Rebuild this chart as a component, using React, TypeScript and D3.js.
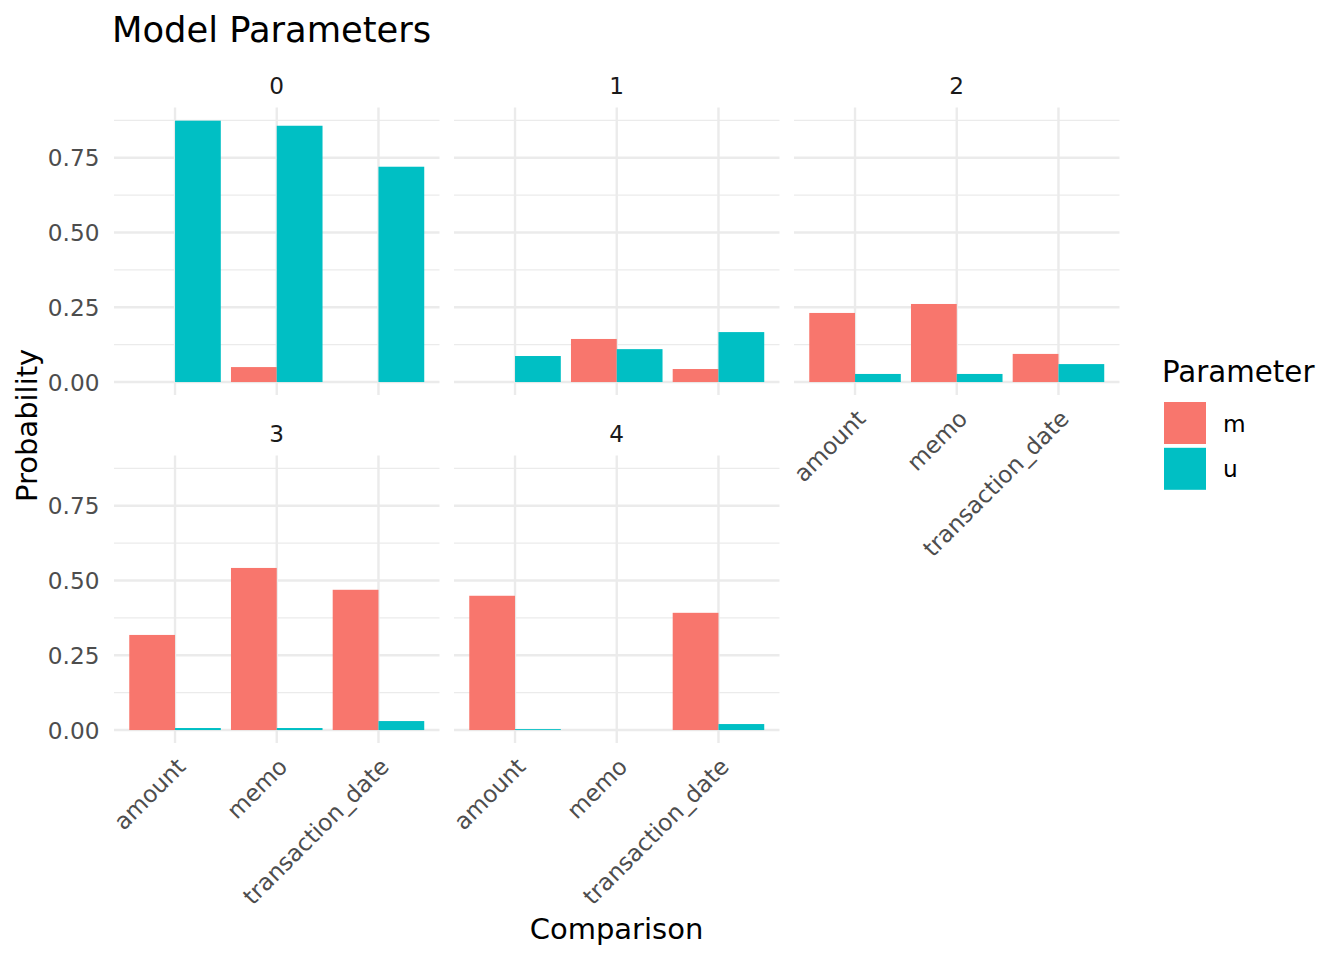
import React from "react";
import * as d3 from "d3";

const levels = ["0", "1", "2", "3", "4"];
const comparisons = ["amount", "memo", "transaction_date"];
const parameters = ["m", "u"];
const mValues = [
  [0, 0.05, 0],
  [0, 0.144, 0.0435],
  [0.231, 0.261, 0.094],
  [0.318, 0.542, 0.469],
  [0.449, 0, 0.392],
];
const uValues = [
  [0.874, 0.857, 0.72],
  [0.087, 0.11, 0.167],
  [0.027, 0.027, 0.06],
  [0.0067, 0.0067, 0.03],
  [0.003, 0, 0.02],
];
const yTicks = [0, 0.25, 0.5, 0.75];
const yMinor = [0.125, 0.375, 0.625, 0.875];

const COLORS: Record<string, string> = { m: "#F8766D", u: "#00BFC4" };
const FONT = "DejaVu Sans, sans-serif";

const W = 1344;
const H = 960;
const panelW = 325.5;
const panelGap = 14.5;
const panelLeft = 114;
const panelH = 287.5;
const rowTops = [107.6, 455.6];
const NCOL = 3;

export default function App() {
  const all = [...mValues.flat(), ...uValues.flat()];
  const vmax = d3.max(all) as number;
  const vmin = Math.min(0, d3.min(all) as number);
  const span = vmax - vmin;
  const yDomain: [number, number] = [vmin - 0.05 * span, vmax + 0.05 * span];

  const panels = levels.map((lvl, i) => {
    const col = i % NCOL;
    const row = Math.floor(i / NCOL);
    const x0 = panelLeft + col * (panelW + panelGap);
    const y0 = rowTops[row];
    const x = d3.scaleLinear().domain([0.4, comparisons.length + 0.6]).range([x0, x0 + panelW]);
    const y = d3.scaleLinear().domain(yDomain).range([y0 + panelH, y0]);
    const showX = i + NCOL >= levels.length;
    const showY = col === 0;
    return { lvl, i, x0, y0, x, y, showX, showY };
  });

  const barW = 0.45;

  return (
    <svg width={W} height={H} style={{ display: "block", position: "absolute", left: 0, top: 0, background: "#fff" }} fontFamily={FONT}>
      <rect x={0} y={0} width={W} height={H} fill="#fff" />
      <text x={112} y={41.7} fontSize={35.3} fill="#000">Model Parameters</text>
      {panels.map((p) => (
        <g key={p.lvl}>
          {yMinor.map((t) => (
            <line key={"mn" + t} x1={p.x0} x2={p.x0 + panelW} y1={p.y(t)} y2={p.y(t)} stroke="#EBEBEB" strokeWidth={1.2} />
          ))}
          {yTicks.map((t) => (
            <line key={"mj" + t} x1={p.x0} x2={p.x0 + panelW} y1={p.y(t)} y2={p.y(t)} stroke="#EBEBEB" strokeWidth={2.4} />
          ))}
          {comparisons.map((c, ci) => (
            <line key={"v" + c} x1={p.x(ci + 1)} x2={p.x(ci + 1)} y1={p.y0} y2={p.y0 + panelH} stroke="#EBEBEB" strokeWidth={2.4} />
          ))}
          {comparisons.map((c, ci) =>
            parameters.map((par, pi) => {
              const v = (par === "m" ? mValues : uValues)[p.i][ci];
              if (v <= 0) return null;
              const left = p.x(ci + 1 - barW + pi * barW);
              const right = p.x(ci + 1 + pi * barW);
              return (
                <rect
                  key={c + par}
                  x={left}
                  width={right - left}
                  y={p.y(v)}
                  height={p.y(0) - p.y(v)}
                  fill={COLORS[par]}
                />
              );
            })
          )}
          <text x={p.x0 + panelW / 2} y={p.y0 - 22.6} fontSize={23.2} fill="#1A1A1A" textAnchor="middle" dominantBaseline="central">
            {p.lvl}
          </text>
          {p.showY &&
            yTicks.map((t) => (
              <text key={"yl" + t} x={99.5} y={p.y(t)} fontSize={23.2} fill="#4D4D4D" textAnchor="end" dominantBaseline="central">
                {d3.format(".2f")(t)}
              </text>
            ))}
          {p.showX &&
            comparisons.map((c, ci) => {
              const ax = p.x(ci + 1) + 12;
              const ay = p.y0 + panelH + 25;
              return (
                <text key={"xl" + c} x={0} y={0} transform={`translate(${ax},${ay}) rotate(-45)`} fontSize={23.2} fill="#4D4D4D" textAnchor="end">
                  {c}
                </text>
              );
            })}
        </g>
      ))}
      <text x={616.5} y={939} fontSize={29} fill="#000" textAnchor="middle">Comparison</text>
      <text x={0} y={0} transform={`translate(36.7,425.4) rotate(-90)`} fontSize={29} fill="#000" textAnchor="middle">Probability</text>
      <text x={1162} y={381.7} fontSize={29.3} fill="#000">Parameter</text>
      {parameters.map((par, pi) => (
        <g key={"lg" + par}>
          <rect x={1164} y={402 + pi * 45.8} width={42} height={42} fill={COLORS[par]} />
          <text x={1223} y={423 + pi * 45.8} fontSize={23.2} fill="#000" dominantBaseline="central">{par}</text>
        </g>
      ))}
    </svg>
  );
}
